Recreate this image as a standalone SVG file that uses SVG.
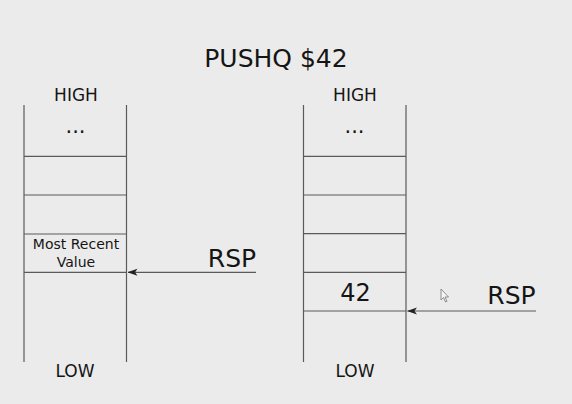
<svg xmlns="http://www.w3.org/2000/svg" width="572" height="404" viewBox="0 0 572 404">
<defs>
<style>
.t{font-family:"DejaVu Sans",sans-serif;fill:#151515;text-anchor:middle}
.l{stroke:#5a5a5a;stroke-width:1.2;fill:none}
</style>
<marker id="ah" viewBox="0 0 10 8" refX="9.5" refY="4" markerWidth="10" markerHeight="8" markerUnits="userSpaceOnUse" orient="auto">
<path d="M10,4 L0,0.5 L2.5,4 L0,7.5 Z" fill="#222"/>
</marker>
</defs>
<rect width="572" height="404" fill="#ebebeb"/>
<text class="t" x="276" y="66.5" font-size="25">PUSHQ $42</text>
<g id="stack-left">
<line class="l" x1="24" y1="105" x2="24" y2="362"/>
<line class="l" x1="126.5" y1="105" x2="126.5" y2="362"/>
<line class="l" x1="24" y1="156.3" x2="126.5" y2="156.3"/>
<line class="l" x1="24" y1="195" x2="126.5" y2="195"/>
<line class="l" x1="24" y1="234" x2="126.5" y2="234"/>
<line class="l" x1="24" y1="272.3" x2="126.5" y2="272.3"/>
<text class="t" x="76" y="100.5" font-size="17">HIGH</text>
<text class="t" x="75.5" y="133" font-size="21">...</text>
<text class="t" x="76" y="249" font-size="14">Most Recent</text>
<text class="t" x="76" y="266.5" font-size="14">Value</text>
<text class="t" x="75" y="377" font-size="17">LOW</text>
</g>
<g id="stack-right">
<line class="l" x1="303.5" y1="105" x2="303.5" y2="362"/>
<line class="l" x1="406" y1="105" x2="406" y2="362"/>
<line class="l" x1="303.5" y1="156.3" x2="406" y2="156.3"/>
<line class="l" x1="303.5" y1="195" x2="406" y2="195"/>
<line class="l" x1="303.5" y1="233.7" x2="406" y2="233.7"/>
<line class="l" x1="303.5" y1="272.3" x2="406" y2="272.3"/>
<line class="l" x1="303.5" y1="311" x2="406" y2="311"/>
<text class="t" x="355" y="100.5" font-size="17">HIGH</text>
<text class="t" x="354.5" y="133" font-size="21">...</text>
<text class="t" x="355.5" y="301" font-size="24">42</text>
<text class="t" x="355" y="377" font-size="17">LOW</text>
</g>
<g id="rsp-left">
<text class="t" x="232" y="267" font-size="25">RSP</text>
</g>
<g id="rsp-right">
<text class="t" x="511.5" y="304" font-size="25">RSP</text>
</g>
<g id="connectors">
<line class="l" x1="256" y1="272.3" x2="128" y2="272.3" marker-end="url(#ah)"/>
<line class="l" x1="536" y1="311" x2="407.5" y2="311" marker-end="url(#ah)"/>
</g>
<path d="M441,289 L441,300 L443.5,297.5 L445.5,302 L447,301.3 L445,297 L448.5,297 Z" fill="#f4f4f4" stroke="#777" stroke-width="0.8"/>
</svg>
